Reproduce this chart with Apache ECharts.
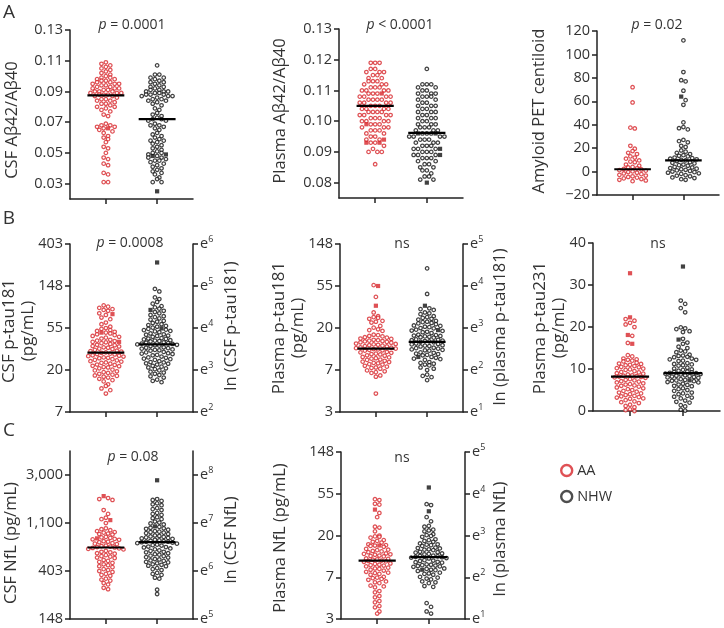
<!DOCTYPE html>
<html><head><meta charset="utf-8">
<script src="https://cdn.jsdelivr.net/npm/echarts@6/dist/echarts.min.js"></script>
<style>html,body{margin:0;padding:0;background:#fff}#c{width:724px;height:628px}</style>
</head><body><div id="c"></div>
<script>
const RED = '#d7262b', BLK = '#111111', TXT = '#333333', FONT = 'Open Sans';

// ---------- data ----------
// A1: CSF Abeta42/Abeta40
const csfAbAA = [0.109,0.108,0.107,0.106,0.105,0.104,0.103,0.102,0.101,0.100,0.099,0.099,0.098,0.098,0.097,0.097,0.096,0.096,0.095,0.095,0.095,0.094,0.094,0.093,0.093,0.092,0.092,0.092,0.091,0.091,0.090,0.090,0.090,0.089,0.089,0.089,0.088,0.088,0.088,0.087,0.087,0.086,0.085,0.085,0.084,0.084,0.083,0.082,0.082,0.081,0.080,0.080,0.079,0.078,0.077,0.075,0.074,0.069,0.068,0.068,0.067,0.067,0.066,0.065,0.064,0.063,0.061,0.060,0.059,0.057,0.054,0.053,0.050,0.047,0.046,0.043,0.042,0.037,0.036,0.031,0.031];
const csfAbAAsq = [0.066];
const csfAbNHW = [0.107,0.101,0.101,0.099,0.099,0.098,0.097,0.096,0.096,0.095,0.094,0.093,0.093,0.092,0.091,0.091,0.090,0.090,0.090,0.089,0.089,0.088,0.088,0.088,0.087,0.087,0.087,0.086,0.085,0.085,0.084,0.084,0.083,0.082,0.081,0.079,0.078,0.076,0.075,0.074,0.073,0.072,0.072,0.071,0.071,0.069,0.068,0.068,0.067,0.066,0.065,0.063,0.062,0.061,0.060,0.059,0.058,0.058,0.057,0.056,0.055,0.054,0.053,0.052,0.051,0.050,0.050,0.049,0.048,0.047,0.047,0.046,0.045,0.045,0.044,0.043,0.042,0.041,0.040,0.039,0.038,0.037,0.036,0.034,0.033,0.031,0.031];
const csfAbNHWsq = [0.049,0.048,0.025];
const csfAbMed = [0.0875, 0.072];

// A2: Plasma Abeta42/Abeta40
const plAbAA = [0.119,0.119,0.119,0.117,0.117,0.116,0.116,0.116,0.115,0.115,0.114,0.114,0.113,0.113,0.113,0.112,0.112,0.112,0.111,0.111,0.111,0.110,0.110,0.110,0.110,0.109,0.109,0.109,0.108,0.108,0.108,0.108,0.107,0.107,0.107,0.107,0.106,0.106,0.106,0.106,0.105,0.105,0.105,0.104,0.104,0.104,0.104,0.103,0.103,0.103,0.103,0.102,0.102,0.102,0.102,0.101,0.101,0.101,0.100,0.100,0.100,0.100,0.099,0.099,0.099,0.098,0.098,0.098,0.097,0.097,0.097,0.096,0.096,0.095,0.095,0.094,0.094,0.093,0.093,0.092,0.091,0.090,0.090,0.090,0.086];
const plAbAAsq = [0.109,0.099,0.094,0.093,0.093];
const plAbNHW = [0.117,0.112,0.112,0.112,0.111,0.111,0.110,0.110,0.109,0.109,0.109,0.108,0.108,0.108,0.107,0.107,0.106,0.106,0.105,0.105,0.105,0.104,0.104,0.103,0.103,0.103,0.102,0.102,0.101,0.101,0.101,0.100,0.100,0.099,0.099,0.099,0.098,0.098,0.098,0.097,0.097,0.097,0.096,0.096,0.096,0.095,0.095,0.095,0.095,0.094,0.094,0.094,0.093,0.093,0.093,0.092,0.092,0.092,0.091,0.091,0.091,0.090,0.090,0.090,0.089,0.089,0.089,0.088,0.088,0.088,0.087,0.087,0.086,0.086,0.085,0.085,0.084,0.084,0.083,0.082,0.082,0.081,0.081];
const plAbNHWsq = [0.096,0.096,0.091,0.089,0.080];
const plAbMed = [0.105, 0.0962];

// A3: Amyloid PET centiloid
const petAA = [72,59,37.5,36.8,22,19.5,17.5,16,15,13,12,11,9.5,8.5,8,6,5,4,3.5,2.8,2.2,1.8,1.2,0.8,0.2,-0.4,-1,-1.6,-2.2,-2.8,-3.4,-4,-4.6,-5.2,-5.8,-6.4,-7,-7.6,-8.2];
const petAAsq = [];
const petNHW = [112,85,78,77,69,61,57,42,38,37,36,27,26,25,22,21,18,17,16,15,14,13.5,13,12,11.5,11,10.5,10,9.5,9,8,7.5,7,6,5.5,5,4,3.5,3,2.5,2,1.5,1,0.5,0,-0.5,-1,-1.5,-2,-3,-3.5,-4,-5,-5.5,-6.5,-7];
const petNHWsq = [64];
const petMed = [2, 9.5];

// B1: CSF p-tau181 (ln pg/mL)
const csfPtAA = [4.54,4.51,4.48,4.45,4.43,4.41,4.35,4.31,4.25,4.21,4.13,4.09,4.03,4.00,3.98,3.95,3.93,3.91,3.89,3.87,3.85,3.83,3.81,3.79,3.77,3.75,3.72,3.70,3.69,3.67,3.66,3.64,3.62,3.60,3.59,3.57,3.56,3.54,3.53,3.51,3.50,3.48,3.46,3.45,3.44,3.42,3.41,3.39,3.38,3.37,3.35,3.34,3.33,3.32,3.30,3.29,3.28,3.26,3.24,3.23,3.21,3.20,3.18,3.17,3.15,3.13,3.12,3.10,3.09,3.07,3.06,3.04,3.01,2.99,2.97,2.95,2.93,2.91,2.89,2.87,2.86,2.84,2.82,2.79,2.76,2.73,2.66,2.62,2.56,2.52,2.44];
const csfPtAAsq = [4.33,3.89,3.67];
const csfPtNHW = [4.93,4.87,4.73,4.69,4.62,4.58,4.52,4.49,4.46,4.41,4.38,4.35,4.31,4.28,4.26,4.23,4.20,4.17,4.15,4.12,4.09,4.07,4.05,4.03,4.01,3.98,3.96,3.95,3.93,3.92,3.90,3.87,3.85,3.84,3.82,3.81,3.79,3.76,3.75,3.74,3.73,3.71,3.70,3.69,3.68,3.66,3.65,3.64,3.63,3.62,3.61,3.60,3.59,3.58,3.57,3.54,3.53,3.52,3.51,3.49,3.48,3.47,3.46,3.43,3.42,3.40,3.39,3.38,3.36,3.35,3.32,3.30,3.29,3.27,3.26,3.24,3.21,3.19,3.18,3.16,3.15,3.13,3.10,3.08,3.06,3.04,3.02,2.99,2.96,2.94,2.91,2.88,2.85,2.82,2.77,2.74,2.71];
const csfPtNHWsq = [5.56,4.43,3.99];
const csfPtMed = [3.415, 3.61];

// B2: Plasma p-tau181 (ln pg/mL)
const plPtAA = [4.02,3.74,3.37,3.28,3.26,3.24,3.22,3.17,3.15,3.13,3.05,3.01,2.97,2.95,2.93,2.84,2.83,2.81,2.80,2.78,2.77,2.75,2.74,2.72,2.71,2.70,2.69,2.68,2.67,2.66,2.65,2.63,2.62,2.61,2.60,2.59,2.58,2.57,2.56,2.54,2.53,2.52,2.51,2.50,2.49,2.48,2.47,2.46,2.43,2.42,2.41,2.39,2.38,2.37,2.35,2.34,2.31,2.30,2.28,2.27,2.25,2.24,2.22,2.20,2.19,2.17,2.16,2.14,2.13,2.10,2.08,2.06,2.05,2.03,1.99,1.97,1.95,1.93,1.87,1.84,1.44];
const plPtAAsq = [4.00,3.53];
const plPtNHW = [4.42,3.81,3.47,3.45,3.43,3.37,3.35,3.33,3.28,3.26,3.24,3.22,3.20,3.17,3.15,3.14,3.12,3.11,3.09,3.06,3.05,3.03,3.02,3.00,2.99,2.96,2.94,2.93,2.91,2.90,2.88,2.84,2.83,2.82,2.81,2.80,2.79,2.78,2.77,2.73,2.72,2.71,2.70,2.69,2.68,2.67,2.66,2.63,2.62,2.61,2.59,2.58,2.57,2.56,2.53,2.52,2.51,2.49,2.48,2.47,2.46,2.42,2.41,2.39,2.38,2.36,2.35,2.31,2.29,2.27,2.26,2.24,2.19,2.17,2.15,2.13,2.11,2.06,2.03,2.00,1.89,1.86,1.83,1.76];
const plPtNHWsq = [3.53,2.95,2.31];
const plPtMed = [2.51, 2.67];

// B3: Plasma p-tau231 (pg/mL)
const pt231AA = [21.9,21.5,21.0,20.6,20.0,17.9,16.2,13.3,13.0,12.5,12.3,12.2,12.0,11.8,11.5,11.3,11.2,11.0,10.9,10.7,10.5,10.4,10.2,10.1,9.9,9.8,9.5,9.3,9.2,9.0,8.9,8.7,8.5,8.4,8.3,8.2,8.1,8.0,7.9,7.6,7.4,7.3,7.1,7.0,6.8,6.6,6.4,6.3,6.1,6.0,5.8,5.6,5.4,5.2,5.0,4.8,4.6,4.4,4.2,4.0,3.8,3.6,3.5,3.3,3.2,3.0,2.9,2.6,2.3,2.1,1.9,1.5,1.2,0.9,0.4,0.2,0];
const pt231AAsq = [32.8,22.3,18.1,16.0];
const pt231NHW = [26.3,25.5,24.5,23.5,19.9,19.7,19.5,19.0,18.8,17.2,16.3,16.0,15.3,15.0,14.4,14.2,14.0,13.4,13.2,13.1,12.9,12.8,12.5,12.3,12.2,12.0,11.9,11.4,11.2,11.1,10.9,10.8,10.3,10.1,9.9,9.8,9.6,9.4,9.3,9.2,9.1,9.0,8.9,8.8,8.7,8.5,8.4,8.3,8.2,8.1,8.0,7.9,7.6,7.4,7.3,7.2,7.1,6.9,6.8,6.5,6.3,6.2,6.0,5.9,5.4,5.2,5.0,4.8,4.4,4.2,4.0,3.6,3.4,3.2,3.0,2.5,2.2,2.0,1.4,1.1,0.3,0.1];
const pt231NHWsq = [34.4,17.0,7.3];
const pt231Med = [8.2, 9.0];

// C1: CSF NfL (ln pg/mL)
const csfNflAA = [7.52,7.50,7.48,7.27,7.19,7.11,7.08,7.00,6.89,6.87,6.85,6.83,6.81,6.80,6.78,6.77,6.76,6.71,6.70,6.69,6.67,6.66,6.65,6.62,6.61,6.60,6.58,6.57,6.56,6.53,6.52,6.51,6.50,6.49,6.48,6.47,6.46,6.45,6.42,6.40,6.39,6.37,6.36,6.33,6.31,6.30,6.28,6.27,6.23,6.21,6.19,6.17,6.14,6.12,6.10,6.08,6.04,6.02,6.00,5.98,5.94,5.92,5.90,5.84,5.82,5.80,5.75,5.72,5.65,5.62];
const csfNflAAsq = [7.56,7.06,6.68];
const csfNflNHW = [7.50,7.48,7.46,7.41,7.39,7.37,7.31,7.29,7.27,7.21,7.19,7.17,7.12,7.10,7.08,7.03,7.01,6.99,6.97,6.92,6.90,6.89,6.88,6.86,6.83,6.82,6.81,6.80,6.79,6.77,6.74,6.73,6.72,6.71,6.70,6.69,6.68,6.67,6.65,6.64,6.63,6.62,6.61,6.61,6.60,6.59,6.58,6.57,6.55,6.54,6.53,6.51,6.50,6.49,6.47,6.45,6.43,6.42,6.40,6.39,6.37,6.35,6.34,6.32,6.31,6.29,6.28,6.25,6.24,6.22,6.21,6.19,6.18,6.16,6.14,6.13,6.11,6.10,6.06,6.04,6.02,5.96,5.94,5.92,5.86,5.84,5.61,5.52];
const csfNflNHWsq = [7.89,6.93];
const csfNflMed = [6.49, 6.6];

// C2: Plasma NfL (ln pg/mL)
const plNflAA = [3.87,3.85,3.76,3.74,3.54,3.44,3.21,3.19,3.10,3.00,2.98,2.97,2.95,2.89,2.87,2.85,2.83,2.79,2.77,2.76,2.75,2.73,2.68,2.66,2.65,2.63,2.62,2.60,2.57,2.56,2.55,2.54,2.52,2.51,2.50,2.45,2.44,2.43,2.42,2.40,2.39,2.38,2.37,2.33,2.32,2.30,2.29,2.28,2.26,2.23,2.21,2.20,2.18,2.16,2.13,2.11,2.10,2.08,2.06,2.01,1.99,1.98,1.96,1.94,1.90,1.88,1.86,1.80,1.78,1.76,1.67,1.64,1.55,1.52,1.43,1.40,1.31,1.28,1.18,1.13];
const plNflAAsq = [3.62,2.76];
const plNflNHW = [3.75,3.73,3.44,3.34,3.23,3.21,3.14,3.12,3.10,3.03,3.01,2.99,2.97,2.91,2.89,2.87,2.85,2.81,2.79,2.78,2.77,2.75,2.71,2.70,2.69,2.67,2.66,2.65,2.61,2.60,2.59,2.57,2.56,2.55,2.52,2.51,2.50,2.49,2.48,2.47,2.46,2.45,2.41,2.40,2.39,2.37,2.36,2.35,2.31,2.30,2.29,2.28,2.27,2.26,2.25,2.21,2.20,2.18,2.17,2.15,2.11,2.09,2.08,2.06,2.01,1.99,1.97,1.95,1.90,1.88,1.86,1.79,1.77,1.38,1.29,1.18,1.13];
const plNflNHWsq = [4.15,3.58,2.18];
const plNflMed = [2.40, 2.48];

// tick labels
const tickAb1 = [0.03,0.05,0.07,0.09,0.11,0.13];
const tickAb2 = [0.08,0.09,0.10,0.11,0.12,0.13];
const tickPet = [-20,0,20,40,60,80,100,120];
const tickLn26 = [2,3,4,5,6];
const tickLn15 = [1,2,3,4,5];
const tick231 = [0,10,20,30,40];
const tickLn58 = [5,6,7,8];
const lblLn = {1:'3',2:'7',3:'20',4:'55',5:'148',6:'403'};
const lblNfl = {5:'148',6:'403',7:'1,100',8:'3,000'};

// ---------- panels ----------
const panels = [
  {grid:{left:70,top:30,width:123,height:169}, min:0.02,max:0.13, ticks:tickAb1, fmt:v=>v.toFixed(2), aa:csfAbAA,aaSq:csfAbAAsq,nhw:csfAbNHW,nhwSq:csfAbNHWsq,med:csfAbMed},
  {grid:{left:339,top:29,width:124,height:169}, min:0.075,max:0.13, ticks:tickAb2, fmt:v=>v.toFixed(2), aa:plAbAA,aaSq:plAbAAsq,nhw:plAbNHW,nhwSq:plAbNHWsq,med:plAbMed},
  {grid:{left:597,top:31,width:122,height:164}, min:-20,max:120, ticks:tickPet, fmt:v=>v<0?'\u2212'+(-v):String(v), aa:petAA,aaSq:petAAsq,nhw:petNHW,nhwSq:petNHWsq,med:petMed},
  {grid:{left:70,top:244,width:123,height:168}, min:2,max:6, ticks:tickLn26, fmt:v=>lblLn[v], right:true, aa:csfPtAA,aaSq:csfPtAAsq,nhw:csfPtNHW,nhwSq:csfPtNHWsq,med:csfPtMed},
  {grid:{left:340,top:244,width:123,height:168}, min:1,max:5, ticks:tickLn15, fmt:v=>lblLn[v], right:true, aa:plPtAA,aaSq:plPtAAsq,nhw:plPtNHW,nhwSq:plPtNHWsq,med:plPtMed},
  {grid:{left:593,top:243,width:127,height:168}, min:0,max:40, ticks:tick231, fmt:v=>String(v), aa:pt231AA,aaSq:pt231AAsq,nhw:pt231NHW,nhwSq:pt231NHWsq,med:pt231Med},
  {grid:{left:70,top:451,width:123,height:168}, min:5,max:8.5, ticks:tickLn58, fmt:v=>lblNfl[v], right:true, aa:csfNflAA,aaSq:csfNflAAsq,nhw:csfNflNHW,nhwSq:csfNflNHWsq,med:csfNflMed},
  {grid:{left:341,top:452,width:124,height:167}, min:1,max:5, ticks:tickLn15, fmt:v=>lblLn[v], right:true, aa:plNflAA,aaSq:plNflAAsq,nhw:plNflNHW,nhwSq:plNflNHWsq,med:plNflMed}
];

const axisLineStyle = {color:'#222', width:1.5};

function build(offs){
  const grid=[], xAxis=[], yAxis=[], series=[];
  panels.forEach((p,i)=>{
    grid.push(Object.assign({containLabel:false}, p.grid));
    xAxis.push({type:'value', gridIndex:i, min:-0.7, max:1.7,
      axisLine:{show:true, onZero:false, lineStyle:axisLineStyle},
      axisTick:{show:true, customValues:[0,1], length:5, lineStyle:axisLineStyle},
      axisLabel:{show:false}, splitLine:{show:false}});
    yAxis.push({type:'value', gridIndex:i, min:p.min, max:p.max, position:'left',
      axisLine:{show:true, onZero:false, lineStyle:axisLineStyle},
      axisTick:{show:true, customValues:p.ticks, length:5, lineStyle:axisLineStyle},
      axisLabel:{customValues:p.ticks, formatter:p.fmt, fontSize:14.5, color:TXT, fontFamily:FONT, margin:7},
      splitLine:{show:false}});
  });
  panels.forEach((p,i)=>{
    if(!p.right) return;
    yAxis.push({type:'value', gridIndex:i, min:p.min, max:p.max, position:'right',
      axisLine:{show:true, onZero:false, lineStyle:axisLineStyle},
      axisTick:{show:true, customValues:p.ticks, length:5, lineStyle:axisLineStyle},
      axisLabel:{customValues:p.ticks, formatter:v=>'{e|e}{s|'+v+'}', margin:7,
        rich:{e:{fontSize:14.5,color:TXT,fontFamily:FONT}, s:{fontSize:9,color:TXT,fontFamily:FONT,padding:[0,0,9,0]}}},
      splitLine:{show:false}});
  });
  panels.forEach((p,i)=>{
    const o = offs ? offs[i] : null;
    const pts = (vals, key, start) => vals.map((v,k)=>[o ? o[key][start+k] : (key==='aa'?0:1), v]);
    const base = {type:'scatter', xAxisIndex:i, yAxisIndex:i, silent:true, animation:false};
    series.push(Object.assign({}, base, {name:'AA', symbol:'circle', symbolSize:3.5,
      itemStyle:{color:'#fff', borderColor:RED, borderWidth:1.25}, data:pts(p.aa,'aa',0), z:2}));
    series.push(Object.assign({}, base, {name:'AA-sq', symbol:'rect', symbolSize:4.2,
      itemStyle:{color:RED}, data:pts(p.aaSq,'aa',p.aa.length), z:3}));
    series.push(Object.assign({}, base, {name:'NHW', symbol:'circle', symbolSize:3.5,
      itemStyle:{color:'#fff', borderColor:BLK, borderWidth:1.25}, data:pts(p.nhw,'nhw',0), z:2}));
    series.push(Object.assign({}, base, {name:'NHW-sq', symbol:'rect', symbolSize:4.2,
      itemStyle:{color:BLK}, data:pts(p.nhwSq,'nhw',p.nhw.length), z:3}));
    [0,1].forEach(g=>{
      series.push({type:'line', xAxisIndex:i, yAxisIndex:i, silent:true, animation:false, symbol:'none',
        data:[[g-0.36,p.med[g]],[g+0.36,p.med[g]]], lineStyle:{color:'#000', width:2.2}, z:4});
    });
  });

  const T = (x,y,text,o={}) => ({type:'text', x, y, rotation:o.rot||0, silent:true, z:10,
    style:Object.assign({text, fontSize:o.fs||15, fontFamily:FONT, fill:TXT, align:'center', verticalAlign:'middle', lineHeight:o.lh||18}, o.style||{})});
  const R = Math.PI/2;
  const pv = (x,y,rest) => T(x,y,'{i|p}'+rest,{fs:14, style:{rich:{i:{fontStyle:'italic', fontSize:14, fontFamily:FONT, fill:TXT}}}});
  const graphic = [
    T(9,13,'A',{fs:19}), T(9,219,'B',{fs:19}), T(9,431,'C',{fs:19}),
    pv(132,25,' = 0.0001'), pv(400,25,' < 0.0001'), pv(657,25,' = 0.02'),
    pv(130,243,' = 0.0008'), T(402,244,'ns',{fs:14}), T(658,244,'ns',{fs:14}),
    pv(133,457,' = 0.08'), T(402,458,'ns',{fs:14}),
    T(12,120,'CSF A\u03b242/A\u03b240',{rot:R,fs:16.5}),
    T(280,111,'Plasma A\u03b242/A\u03b240',{rot:R,fs:16.5}),
    T(539,111,'Amyloid PET centiloid',{rot:R,fs:16.5}),
    T(19,331,'CSF p-tau181\n(pg/mL)',{rot:R,fs:17,lh:19}),
    T(289,328,'Plasma p-tau181\n(pg/mL)',{rot:R,fs:17,lh:19}),
    T(550,328,'Plasma p-tau231\n(pg/mL)',{rot:R,fs:17,lh:19}),
    T(11,543,'CSF NfL (pg/mL)',{rot:R,fs:16.5}),
    T(280,538,'Plasma NfL (pg/mL)',{rot:R,fs:16.5}),
    T(231,326,'ln (CSF p-tau181)',{rot:R,fs:16.5}),
    T(500,327,'ln (plasma p-tau181)',{rot:R,fs:16.5}),
    T(231,540,'ln (CSF NfL)',{rot:R,fs:16.5}),
    T(500,539,'ln (plasma NfL)',{rot:R,fs:16.5})
  ];

  return {
    animation:false,
    textStyle:{fontFamily:FONT},
    grid, xAxis, yAxis, series, graphic,
    legend:{left:555, top:458, orient:'vertical', itemWidth:11, itemHeight:11, itemGap:11,
      textStyle:{fontSize:14.5, color:TXT, fontFamily:FONT}, selectedMode:false,
      data:[{name:'AA', icon:'circle', itemStyle:{color:'#fff', borderColor:RED, borderWidth:2.4}},
            {name:'NHW', icon:'circle', itemStyle:{color:'#fff', borderColor:'#222', borderWidth:2.4}}]}
  };
}

// row-based dot layout (GraphPad-style scatter dot plot)
function rowLayout(pys, rowH, S){
  const idx = pys.map((y,i)=>i).sort((a,b)=>pys[a]-pys[b]);
  const xs = new Array(pys.length);
  let k = 0;
  while(k < idx.length){
    const start = pys[idx[k]], row = [];
    while(k < idx.length && pys[idx[k]] - start < rowH){ row.push(idx[k]); k++; }
    const n = row.length, pos = [];
    for(let j=0;j<n;j++) pos.push((j-(n-1)/2)*S);
    const order = pos.map((p,j)=>j).sort((a,b)=>(Math.abs(pos[a])-Math.abs(pos[b])) || (pos[a]-pos[b]));
    row.forEach((pi,j)=>{ xs[pi] = pos[order[j]]; });
  }
  return xs;
}

const chart = echarts.init(document.getElementById('c'));
chart.setOption(build(null));
const offs = panels.map((p,i)=>{
  const f = {seriesIndex:i*6};
  const px0 = chart.convertToPixel(f,[0,p.min])[0];
  const px1 = chart.convertToPixel(f,[1,p.min])[0];
  const ux = 1/(px1-px0);
  const grp = (vals, sq, c) => {
    const all = vals.concat(sq);
    const pys = all.map(v=>chart.convertToPixel(f,[0,v])[1]);
    return rowLayout(pys, 4.3, 4.4).map(x=>c + x*ux);
  };
  return {aa:grp(p.aa,p.aaSq,0), nhw:grp(p.nhw,p.nhwSq,1)};
});
chart.setOption(build(offs), true);
</script>
</body></html>
